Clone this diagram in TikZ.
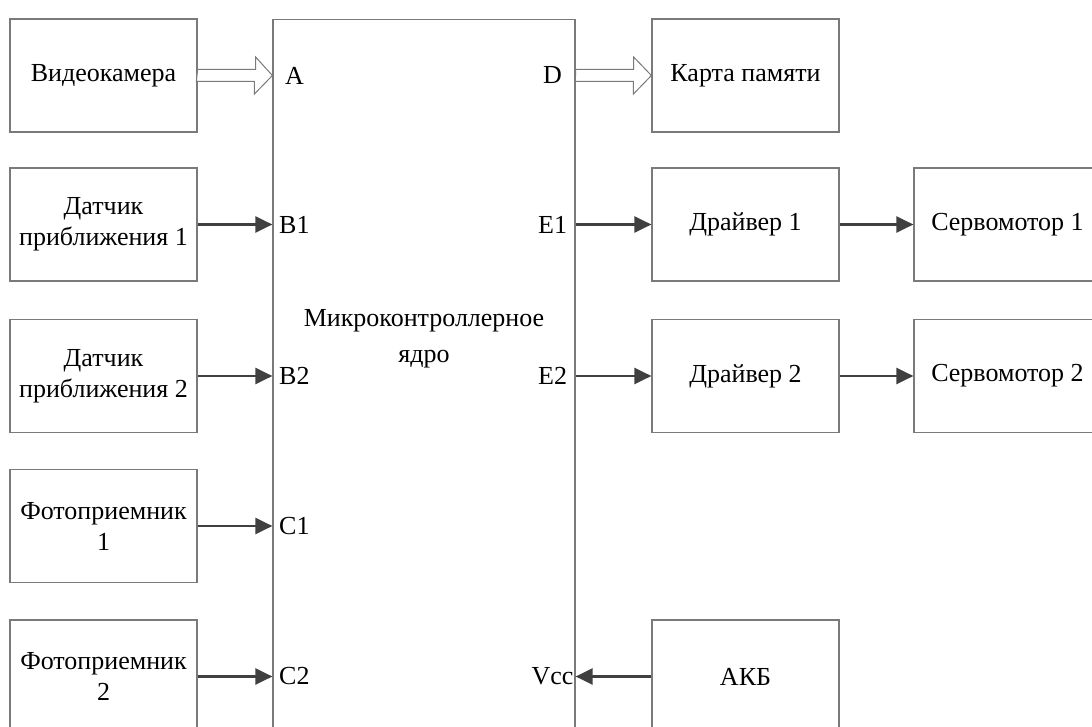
\documentclass[tikz,border=0pt]{standalone}
\usepackage{fontspec}
\setmainfont{Liberation Serif}
\usetikzlibrary{arrows.meta,calc}
\definecolor{rama}{HTML}{7A7A7A}
\definecolor{strela}{HTML}{404040}

\begin{document}
\begin{tikzpicture}[x=1pt, y=-1pt,
    font=\fontsize{26}{31}\selectfont,
    blok/.style={draw=rama, line width=1.2pt, minimum width=187pt, minimum height=113pt, align=center, inner sep=0pt},
    sig/.style={draw=strela, line width=2.4pt, -{Triangle[length=17pt,width=16pt]}},
    shina/.style={draw=rama, line width=1pt, fill=white},
    port/.style={inner sep=0pt}]
    \useasboundingbox (0,0) rectangle (1092,727);
    \clip (0,0) rectangle (1092,727);

    % left column
    \node[blok] (cam) at (103.5,75.5) {Видеокамера};
    \node[blok] (prox1) at (103.5,224.5) {Датчик\\приближения 1};
    \node[blok] (prox2) at (103.5,376) {Датчик\\приближения 2};
    \node[blok] (photo1) at (103.5,526) {Фотоприемник\\1};
    \node[blok] (photo2) at (103.5,676.5) {Фотоприемник\\2};

    % core
    \node[blok, minimum width=302pt, minimum height=800pt, anchor=north] (mcu) at (424,19) {};
    \node[align=center, font=\fontsize{26}{36}\selectfont] (mcutext) at (424,339) {Микроконтроллерное\\ядро};

    % right columns
    \node[blok] (card) at (745.5,75.5) {Карта памяти};
    \node[blok] (drv1) at (745.5,224.5) {Драйвер 1};
    \node[blok] (drv2) at (745.5,376) {Драйвер 2};
    \node[blok] (akb) at (745.5,676.5) {АКБ};
    \node[blok] (servo1) at (1007.5,224.5) {Сервомотор 1};
    \node[blok] (servo2) at (1007.5,376) {Сервомотор 2};

    % port labels
    \foreach \nm/\src/\txt in {lA/cam/A, lB1/prox1/B1, lB2/prox2/B2, lC1/photo1/C1, lC2/photo2/C2}
        \node[port] (\nm) at ($(\src.center -| mcu.west)+(22,0)$) {\txt};
    \foreach \nm/\src/\txt in {lD/card/D, lE1/drv1/E1, lE2/drv2/E2, lVcc/akb/Vcc}
        \node[port] (\nm) at ($(\src.center -| mcu.east)+(-23,0)$) {\txt};

    % wide buses
    \draw[shina] (cam.east) ++(0,-6) -- ++(58,0) -- ++(0,-12.5) -- (cam.east -| mcu.west)
        -- ++(-18,18.5) -- ++(0,-12.5) -- ++(-58,0) -- cycle;
    \draw[shina] (card.west -| mcu.east) ++(0,-6) -- ++(58,0) -- ++(0,-12.5) -- (card.west)
        -- ++(-18,18.5) -- ++(0,-12.5) -- ++(-58,0) -- cycle;

    % signals
    \foreach \src in {prox1, prox2, photo1, photo2}
        \draw[sig] (\src.east) -- (\src.east -| mcu.west);
    \draw[sig] (drv1.west -| mcu.east) -- (drv1.west);
    \draw[sig] (drv2.west -| mcu.east) -- (drv2.west);
    \draw[sig] (drv1.east) -- (servo1.west);
    \draw[sig] (drv2.east) -- (servo2.west);
    \draw[sig] (akb.west) -- (akb.west -| mcu.east);

\end{tikzpicture}
\end{document}
